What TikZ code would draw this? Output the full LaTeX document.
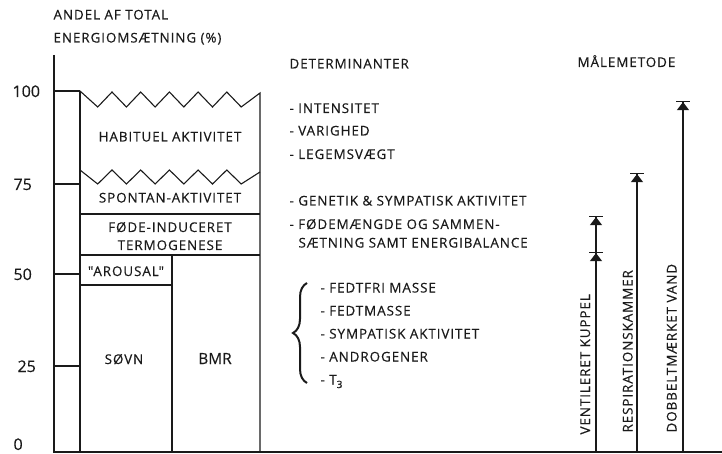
\documentclass[tikz,border=0pt]{standalone}
\usepackage{fontspec}
\setmainfont[FakeBold=0.3]{Open Sans}
\newfontfamily\capsfont[LetterSpace=7,FakeBold=0.4]{Open Sans}
\usetikzlibrary{arrows.meta,positioning,decorations.pathreplacing}
\definecolor{Ink}{HTML}{1A1A1A}

\begin{document}
\begin{tikzpicture}[
  x=1pt,y=-1pt,
  line width=1.1pt,color=Ink,
  caps/.style={font=\capsfont\fontsize{13.4}{15}\selectfont,inner sep=0pt},
  item/.style={caps,anchor=base west},
  num/.style={font=\fontsize{16}{18}\selectfont,inner sep=0pt,anchor=base west},
  vlabel/.style={caps,rotate=90,anchor=base west},
  meas/.style={-{Triangle[length=8pt,width=12pt]Bar[width=14pt]}},
  curly/.style={decorate,decoration={brace,amplitude=14pt},line width=2pt}
]
\useasboundingbox (0,0) rectangle (722,454);

% Axis and heading.
\node[item] (hdrAxisA) at (53,19.5) {ANDEL AF TOTAL};
\node[item] (hdrAxisB) at (53,42.5) {ENERGIOMSÆTNING (\%)};
\draw (54,55) -- (54,452) -- (722,452);
\foreach \yy/\lab/\xx in {91/100/12,184/75/13,274/50/13,366/25/17}{
  \draw (54,\yy) -- (80,\yy);
  \node[num] (tick\lab) at (\xx,\yy+6) {\lab};
}
\node[num] (tick0) at (13,450) {0};

% Stacked energy components.
\draw (80,91) \foreach \k in {0,...,4}{
    -- ({97.7+28.7*\k},107) -- ({112+28.7*\k},92)}
  -- (241.2,107) -- (260,93) -- (260,452);
\draw (80,170) \foreach \k in {0,...,4}{
    -- ({97.7+28.7*\k},184) -- ({112+28.7*\k},170)}
  -- (241.2,184) -- (260,172);
\draw (80,91) -- (80,452);
\draw (80,214) -- (260,214);
\draw (80,255) -- (260,255);
\draw (80,285) -- (172,285);
\draw (172,255) -- (172,452);
\node[caps,anchor=base] (lblHabit) at (170,141.5) {HABITUEL AKTIVITET};
\node[caps,anchor=base] (lblSpontan) at (170,202.5) {SPONTAN-AKTIVITET};
\node[caps,anchor=base] (lblFoedeA) at (170,232) {FØDE-INDUCERET};
\node[caps,anchor=base] (lblFoedeB) at (170,250) {TERMOGENESE};
\node[caps,anchor=base] (lblArousal) at (126,276) {"AROUSAL"};
\node[caps,anchor=base] (lblSoevn) at (124,364) {SØVN};
\node[font=\fontsize{15.4}{18}\selectfont,inner sep=0pt,anchor=base]
  (lblBmr) at (215,364) {BMR};

% Determinants.
\node[item] (hdrDet) at (289,68.5) {DETERMINANTER};
\node[item] (detIntens) at (289,113) {- INTENSITET};
\node[item] (detVarig) at (289,135.5) {- VARIGHED};
\node[item] (detLegem) at (289,159) {- LEGEMSVÆGT};
\node[item] (detGenet) at (289,205.5) {- GENETIK \& SYMPATISK AKTIVITET};
\node[item] (detFoedeA) at (289,229) {- FØDEMÆNGDE OG SAMMEN-};
\node[item] (detFoedeB) at (298,247.5) {SÆTNING SAMT ENERGIBALANCE};
\coordinate (braceLow) at (307,383);
\coordinate (braceHigh) at (307,283);
\draw[curly] (braceLow) -- (braceHigh);
\node[item] (detFfm) at (320,292.5) {- FEDTFRI MASSE};
\node[item] (detFm) at (320,315.5) {- FEDTMASSE};
\node[item] (detSymp) at (320,338.5) {- SYMPATISK AKTIVITET};
\node[item] (detAndro) at (320,361.5) {- ANDROGENER};
\node[item] (detT3) at (320,384.5)
  {- T\raisebox{-3.5pt}{\fontsize{10}{10}\selectfont 3}};

% Measurement methods.
\node[item] (hdrMaal) at (577,67) {MÅLEMETODE};
\coordinate (ventBase) at (596,452);
\coordinate (ventMid) at (596,252);
\coordinate (ventTop) at (596,216);
\coordinate (respBase) at (637,452);
\coordinate (respTop) at (637,173);
\coordinate (dobBase) at (683,452);
\coordinate (dobTop) at (683,101);
\draw[meas] (ventBase) -- (ventMid);
\draw[meas] (ventMid) -- (ventTop);
\draw[meas] (respBase) -- (respTop);
\draw[meas] (dobBase) -- (dobTop);
\node[vlabel] (lblVent) at (590,435) {VENTILERET KUPPEL};
\node[vlabel] (lblResp) at (632.5,433) {RESPIRATIONSKAMMER};
\node[vlabel] (lblDob) at (676.5,433) {DOBBELTMÆRKET VAND};
\end{tikzpicture}
\end{document}
